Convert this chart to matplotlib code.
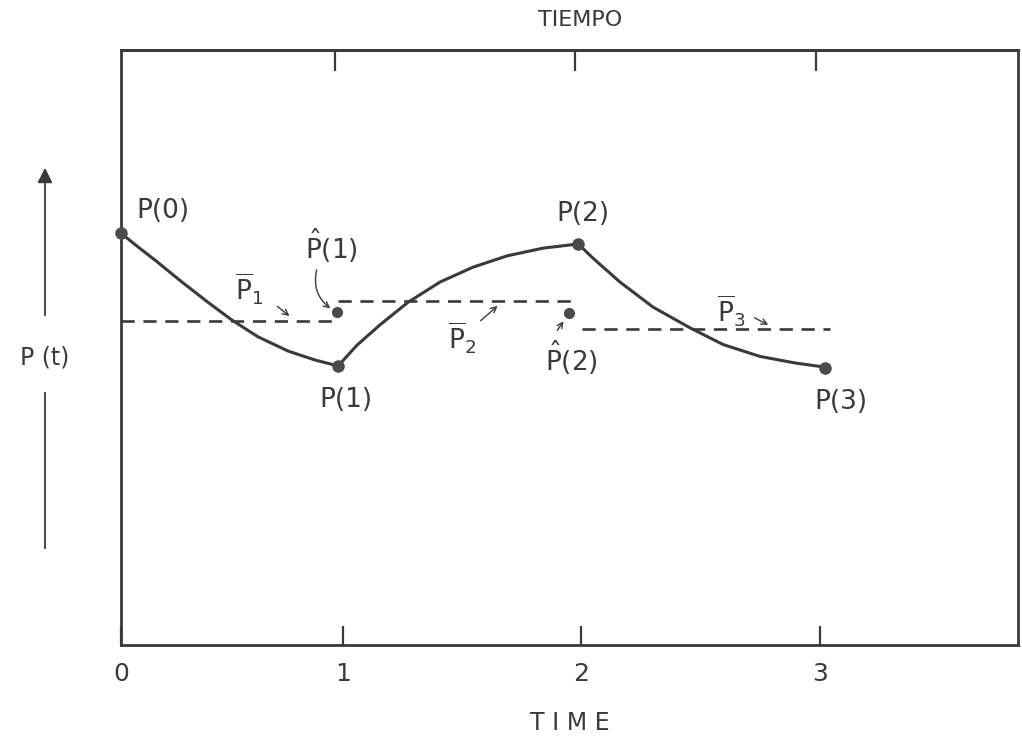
import numpy as np
import matplotlib
matplotlib.use("Agg")
import matplotlib.pyplot as plt

plt.rcParams['font.family'] = ['DejaVu Sans']
plt.rcParams['mathtext.default'] = 'regular'

ink = '#3a3a3a'

# curve, one segment per period
seg1_t = [0.0, 0.073, 0.145, 0.261, 0.372, 0.475, 0.586, 0.715, 0.830, 0.929]
seg1_p = [6.92, 6.69, 6.47, 6.10, 5.76, 5.46, 5.18, 4.94, 4.79, 4.69]
seg2_t = [0.929, 1.010, 1.108, 1.228, 1.365, 1.506, 1.652, 1.806, 1.956]
seg2_p = [4.69, 5.04, 5.38, 5.76, 6.10, 6.35, 6.54, 6.67, 6.74]
seg3_t = [1.956, 2.020, 2.135, 2.276, 2.435, 2.576, 2.734, 2.884, 3.012]
seg3_p = [6.74, 6.50, 6.10, 5.68, 5.33, 5.05, 4.85, 4.74, 4.67]

# end points P(0)..P(3)
pt_t = [0.0, 0.929, 1.956, 3.012]
pt_p = [6.92, 4.69, 6.74, 4.66]

# predicted points
hat_t = [0.924, 1.917]
hat_p = [5.60, 5.58]

# period means (dashed)
bar_start = [0.0, 0.930, 1.973]
bar_end = [0.937, 1.930, 3.034]
bar_p = [5.45, 5.78, 5.31]

tick_pos = [0.0, 0.95, 1.97, 2.99]
tick_lab = ['0', '1', '2', '3']
top_tick_pos = [0.916, 1.943, 2.974]

fig = plt.figure(figsize=(10.22, 7.42), dpi=100)
ax = fig.add_axes([121/1022, 97/742, 897/1022, 595/742])
ax.set_xlim(0, 3.838)
ax.set_ylim(0, 10)

for t, p in [(seg1_t, seg1_p), (seg2_t, seg2_p), (seg3_t, seg3_p)]:
    ax.plot(t, p, color=ink, lw=2.2, solid_capstyle='round',
            solid_joinstyle='round', zorder=3)
for a, b, p in zip(bar_start, bar_end, bar_p):
    ax.plot([a, b], [p, p], color=ink, lw=1.9, dashes=(5, 3.3), zorder=2)
ax.plot(pt_t, pt_p, 'o', color='#4a4a4a', ms=8, zorder=4, clip_on=False)
ax.plot(hat_t, hat_p, 'o', color='#4a4a4a', ms=7, zorder=4)

fs = 19
# point labels
ax.text(0.18, 7.3, 'P(0)', fontsize=fs, ha='center', va='center', color=ink)
ax.text(0.962, 4.12, 'P(1)', fontsize=fs, ha='center', va='center', color=ink)
ax.text(1.975, 7.25, 'P(2)', fontsize=fs, ha='center', va='center', color=ink)
ax.text(3.08, 4.08, 'P(3)', fontsize=fs, ha='center', va='center', color=ink)

# bar labels and arrows
ax.text(0.55, 5.98, r'$\overline{P}_1$', fontsize=fs, ha='center', va='center', color=ink)
ax.annotate('', xy=(0.73, 5.50), xytext=(0.66, 5.72),
            arrowprops=dict(arrowstyle='->', color=ink, lw=1.0))
ax.text(1.46, 5.15, r'$\overline{P}_2$', fontsize=fs, ha='center', va='center', color=ink)
ax.annotate('', xy=(1.62, 5.73), xytext=(1.53, 5.42),
            arrowprops=dict(arrowstyle='->', color=ink, lw=1.0))
ax.text(2.61, 5.60, r'$\overline{P}_3$', fontsize=fs, ha='center', va='center', color=ink)
ax.annotate('', xy=(2.78, 5.36), xytext=(2.70, 5.52),
            arrowprops=dict(arrowstyle='->', color=ink, lw=1.0))

# hat labels and arrows
ax.text(0.787, 6.70, r'$\hat{P}$(1)', fontsize=fs, ha='left', va='center', color=ink)
ax.annotate('', xy=(0.905, 5.63), xytext=(0.84, 6.35),
            arrowprops=dict(arrowstyle='->', color=ink, lw=1.0,
                            connectionstyle='arc3,rad=0.35'))
ax.text(1.814, 4.82, r'$\hat{P}$(2)', fontsize=fs, ha='left', va='center', color=ink)
ax.annotate('', xy=(1.90, 5.48), xytext=(1.86, 5.25),
            arrowprops=dict(arrowstyle='->', color=ink, lw=1.0))

# frame and ticks
for s in ax.spines.values():
    s.set_linewidth(2.0)
    s.set_color(ink)
ax.set_yticks([])
ax.set_xticks(tick_pos)
ax.set_xticklabels(tick_lab, fontsize=18, color=ink)
ax.tick_params(axis='x', direction='in', length=14, width=1.6, color=ink, pad=12)
sec = ax.secondary_xaxis('top')
sec.set_xticks(top_tick_pos)
sec.set_xticklabels([])
sec.tick_params(direction='in', length=15, width=1.6, color=ink)
sec.spines['top'].set_linewidth(2.0)
sec.spines['top'].set_color(ink)

ax.set_xlabel('T I M E', fontsize=17, color=ink, labelpad=18)
fig.text(580/1022, 1 - 20/742, 'TIEMPO', fontsize=16, ha='center', va='center', color=ink)

# P(t) with upward arrow
fig.text(45/1022, 1 - 357/742, 'P (t)', fontsize=17, ha='center', va='center', color=ink)
fig.add_artist(plt.Line2D([45/1022, 45/1022], [1 - 548/742, 1 - 393/742],
                          color=ink, lw=1.3))
ax.annotate('', xy=(45/1022, 1 - 165/742), xytext=(45/1022, 1 - 318/742),
            xycoords='figure fraction', textcoords='figure fraction',
            arrowprops=dict(arrowstyle='-|>,head_length=0.9,head_width=0.45',
                            color=ink, lw=1.3))

fig.savefig('out.png', dpi=100, facecolor='white')
